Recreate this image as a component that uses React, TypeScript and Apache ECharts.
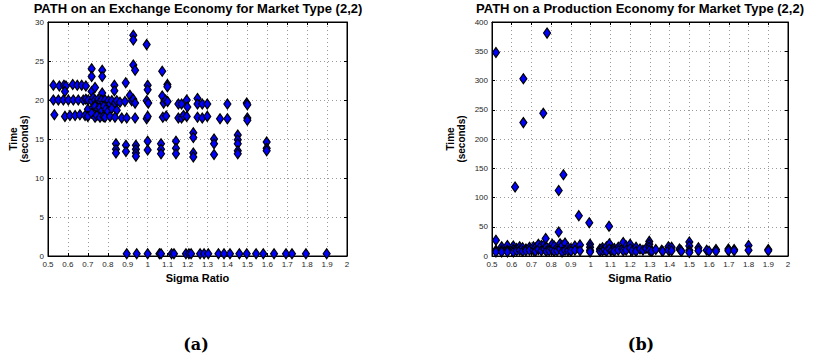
import React, { useEffect, useRef } from "react";
import * as echarts from "echarts";

const titleA = "PATH on an Exchange Economy for Market Type (2,2)";
const titleB = "PATH on a Production Economy for Market Type (2,2)";
const xTicksMin = 0.5;
const xTicksMax = 2;
const xTickStep = 0.1;
const yAMax = 30;
const yAStep = 5;
const yBMax = 400;
const yBStep = 50;

// Exchange economy (a): [sigma ratio, time seconds]
const exchangeTop: number[][] = [
  [0.527, 21.9], [0.557, 21.8], [0.58, 21.9], [0.59, 21.8], [0.624, 22.0], [0.647, 21.9],
  [0.669, 21.9], [0.69, 21.8], [0.585, 21.1], [0.719, 24.0], [0.719, 23.0], [0.719, 21.1],
  [0.736, 21.6], [0.772, 23.8], [0.772, 23.0], [0.772, 20.9], [0.833, 21.9], [0.833, 21.2],
  [0.89, 22.2], [0.928, 28.3], [0.928, 27.7], [0.928, 24.5], [0.937, 23.8], [0.995, 27.1],
  [1.0, 21.9], [1.0, 21.3], [1.073, 23.7], [1.099, 22.0], [1.099, 21.7],
];
const exchangeTwenty: number[][] = [
  [0.527, 20.0], [0.552, 20.0], [0.577, 20.0], [0.602, 20.0], [0.627, 20.0], [0.652, 20.0],
  [0.677, 20.0], [0.69, 20.1], [0.702, 20.0], [0.719, 19.9], [0.727, 20.3], [0.736, 20.0],
  [0.745, 19.6], [0.752, 20.1], [0.761, 19.8], [0.769, 20.0], [0.778, 19.6], [0.786, 20.0],
  [0.795, 19.4], [0.803, 19.9], [0.811, 19.5], [0.82, 19.9], [0.836, 19.6], [0.845, 19.9],
  [0.861, 19.7], [0.886, 19.8], [0.911, 20.6], [0.92, 19.9], [0.928, 20.1], [0.937, 19.6],
  [0.995, 19.9], [1.003, 19.6], [1.073, 20.5], [1.08, 19.6], [1.09, 20.0], [1.1, 19.8],
  [1.154, 19.5], [1.17, 19.5], [1.196, 20.0], [1.199, 19.1], [1.25, 20.2], [1.25, 19.5],
  [1.274, 19.5], [1.299, 19.5], [1.4, 19.5], [1.497, 19.6], [1.5, 19.4],
];
const exchangeBetween: number[][] = [
  [0.7, 18.8], [0.725, 19.0], [0.736, 19.2], [0.75, 18.8], [0.76, 19.0], [0.77, 18.6],
  [0.78, 19.2], [0.79, 18.8], [0.8, 18.5], [0.82, 18.9], [0.845, 18.7],
];
const exchangeEighteen: number[][] = [
  [0.532, 18.1], [0.585, 17.9], [0.61, 18.0], [0.636, 18.0], [0.66, 18.1], [0.686, 18.0],
  [0.7, 17.9], [0.719, 18.3], [0.736, 17.8], [0.745, 18.0], [0.761, 17.8], [0.778, 17.9],
  [0.786, 17.8], [0.811, 17.9], [0.836, 17.8], [0.87, 17.7], [0.895, 17.7], [0.937, 17.7],
  [0.995, 17.6], [1.0, 17.9], [1.076, 17.8], [1.093, 17.95], [1.154, 17.7], [1.17, 17.7],
  [1.18, 18.0], [1.196, 17.9], [1.25, 17.8], [1.274, 17.7], [1.299, 17.9], [1.363, 17.6],
  [1.4, 17.6], [1.5, 17.7], [1.5, 17.4],
];
const exchangeMid: number[][] = [
  [0.841, 14.4], [0.841, 13.7], [0.841, 13.2], [0.891, 14.2], [0.891, 13.4], [0.941, 14.2],
  [0.941, 13.7], [0.941, 13.2], [0.941, 12.8], [1.0, 14.7], [1.0, 13.6], [1.067, 14.4],
  [1.067, 13.7], [1.067, 13.1], [1.142, 14.7], [1.142, 13.8], [1.142, 13.1], [1.229, 15.8],
  [1.229, 15.2], [1.229, 13.2], [1.229, 12.7], [1.333, 15.0], [1.333, 14.4], [1.333, 13.0],
  [1.452, 15.5], [1.452, 14.9], [1.452, 14.4], [1.452, 13.5], [1.452, 13.1], [1.597, 14.6],
  [1.597, 13.8], [1.597, 13.5],
];
const exchangeZeroX: number[] = [
  0.895, 0.945, 1.0, 1.059, 1.067, 1.12, 1.132, 1.192, 1.207, 1.218, 1.263, 1.283, 1.304,
  1.355, 1.383, 1.413, 1.46, 1.497, 1.544, 1.58, 1.634, 1.694, 1.724, 1.794, 1.898,
];
const exchangeZeroY = 0.3;

// Production economy (b)
const productionHigh: number[][] = [
  [0.52, 348], [0.659, 303], [0.659, 228], [0.76, 244], [0.779, 381], [0.617, 118],
  [0.838, 112], [0.862, 139], [0.94, 69], [0.993, 57], [1.093, 51], [0.838, 41],
  [0.772, 30], [0.52, 27],
];
const productionLow: number[][] = [
  [0.52, 10], [0.52, 7], [0.549, 16], [0.549, 10], [0.549, 7], [0.578, 18], [0.578, 10],
  [0.578, 7], [0.608, 17], [0.608, 11], [0.608, 7], [0.625, 13], [0.625, 9], [0.64, 16],
  [0.64, 10], [0.655, 14], [0.655, 8], [0.672, 12], [0.672, 9], [0.69, 15], [0.69, 10],
  [0.71, 16], [0.71, 10], [0.72, 14], [0.72, 8], [0.735, 20], [0.735, 11], [0.75, 18],
  [0.75, 9], [0.765, 20], [0.765, 12], [0.775, 15], [0.775, 8], [0.79, 13], [0.79, 9],
  [0.805, 20], [0.805, 11], [0.815, 17], [0.815, 8], [0.83, 14], [0.83, 9], [0.845, 21],
  [0.845, 12], [0.855, 18], [0.855, 7], [0.87, 22], [0.87, 10], [0.885, 15], [0.885, 9],
  [0.9, 13], [0.9, 8], [0.92, 17], [0.92, 10], [0.946, 19], [0.946, 9], [0.997, 20],
  [0.997, 15], [0.997, 10], [0.997, 7], [1.047, 12], [1.047, 8], [1.06, 14], [1.06, 9],
  [1.07, 11], [1.08, 16], [1.08, 8], [1.095, 21], [1.095, 12], [1.107, 10], [1.12, 13],
  [1.12, 8], [1.14, 15], [1.14, 10], [1.16, 12], [1.165, 23], [1.165, 9], [1.18, 17],
  [1.18, 10], [1.2, 20], [1.2, 13], [1.21, 9], [1.23, 15], [1.23, 8], [1.25, 12],
  [1.265, 10], [1.28, 13], [1.297, 25], [1.297, 20], [1.297, 15], [1.297, 10], [1.31, 8],
  [1.33, 11], [1.36, 10], [1.365, 8], [1.394, 16], [1.394, 10], [1.41, 15], [1.41, 9],
  [1.45, 12], [1.456, 10], [1.46, 8], [1.5, 24], [1.5, 17], [1.5, 10], [1.5, 6],
  [1.546, 14], [1.546, 9], [1.588, 10], [1.6, 8], [1.635, 11], [1.635, 8], [1.698, 12],
  [1.698, 9], [1.727, 11], [1.727, 9], [1.8, 18], [1.8, 10], [1.9, 11], [1.9, 9],
];

const FONT = '"Liberation Sans", Arial, Helvetica, sans-serif';

export default function App() {
  const ref = useRef<HTMLDivElement>(null);
  useEffect(() => {
    if (!ref.current) return;
    const chart = echarts.init(ref.current, undefined, { renderer: "svg" });

    const exchangeAll = [
      ...exchangeTop,
      ...exchangeTwenty,
      ...exchangeBetween,
      ...exchangeEighteen,
      ...exchangeMid,
      ...exchangeZeroX.map((x) => [x, exchangeZeroY]),
    ];
    const productionAll = [...productionLow, ...productionHigh];

    const gridLine = { show: true, lineStyle: { color: "#9a9a9a", type: [1, 3] as any, width: 1 } };
    const tickLabel = { fontFamily: FONT, fontSize: 8, color: "#262626" };
    const xFmt = (v: number) => String(Math.round(v * 10) / 10);

    const mkX = (gridIndex: number, top: boolean) => ({
      type: "value",
      gridIndex,
      position: top ? "top" : "bottom",
      min: xTicksMin,
      max: xTicksMax,
      interval: xTickStep,
      name: top ? "" : "Sigma Ratio",
      nameLocation: "middle",
      nameGap: 14,
      nameTextStyle: { fontFamily: FONT, fontSize: 11, fontWeight: "bold", color: "#000" },
      axisLine: { show: true, onZero: false, lineStyle: { color: "#000", width: 1 } },
      axisTick: { show: true, inside: true, length: 3, lineStyle: { color: "#000" } },
      axisLabel: top ? { show: false } : { ...tickLabel, margin: 4, formatter: xFmt },
      splitLine: top ? { show: false } : gridLine,
    });
    const mkY = (gridIndex: number, right: boolean, max: number, step: number, gap: number) => ({
      type: "value",
      gridIndex,
      position: right ? "right" : "left",
      min: 0,
      max,
      interval: step,
      name: right ? "" : "Time\n(seconds)",
      nameLocation: "middle",
      nameRotate: 90,
      nameGap: gap,
      nameTextStyle: { fontFamily: FONT, fontSize: 10, fontWeight: "bold", color: "#000", lineHeight: 11 },
      axisLine: { show: true, onZero: false, lineStyle: { color: "#000", width: 1 } },
      axisTick: { show: true, inside: true, length: 3, lineStyle: { color: "#000" } },
      axisLabel: right ? { show: false } : { ...tickLabel, margin: 4 },
      splitLine: right ? { show: false } : gridLine,
    });

    const marker = {
      type: "scatter",
      symbol: "diamond",
      symbolSize: [7, 10],
      itemStyle: { color: "#0000ff", borderColor: "#000", borderWidth: 1.2, opacity: 1 },
    };

    const titleStyle = { fontFamily: FONT, fontSize: 13, fontWeight: "bold", color: "#000", lineHeight: 14 };
    const capStyle = { fontFamily: '"DejaVu Serif", serif', fontSize: 16, fontWeight: "bold", color: "#000" };

    chart.setOption({
      animation: false,
      backgroundColor: "#fff",
      title: [
        { text: titleA, left: 198, top: 1, padding: 0, textAlign: "center", textStyle: titleStyle },
        { text: titleB, left: 640, top: 1, padding: 0, textAlign: "center", textStyle: titleStyle },
        { text: "(a)", left: 191, top: 331, textAlign: "center", textStyle: capStyle },
        { text: "(b)", left: 636, top: 331, textAlign: "center", textStyle: capStyle },
      ],
      grid: [
        { left: 48, right: 474, top: 22, bottom: 104, show: true, borderColor: "#000", borderWidth: 1 },
        { left: 492, right: 33, top: 22, bottom: 104, show: true, borderColor: "#000", borderWidth: 1 },
      ],
      xAxis: [mkX(0, false), mkX(0, true), mkX(1, false), mkX(1, true)],
      yAxis: [
        mkY(0, false, yAMax, yAStep, 18),
        mkY(0, true, yAMax, yAStep, 18),
        mkY(1, false, yBMax, yBStep, 25),
        mkY(1, true, yBMax, yBStep, 25),
      ],
      series: [
        { ...marker, name: "exchange", xAxisIndex: 0, yAxisIndex: 0, data: exchangeAll },
        { ...marker, name: "production", xAxisIndex: 2, yAxisIndex: 2, data: productionAll },
      ],
    });
    return () => chart.dispose();
  }, []);
  return (
    <div
      ref={ref}
      style={{ position: "absolute", left: 0, top: 0, width: 821, height: 360 }}
    />
  );
}
